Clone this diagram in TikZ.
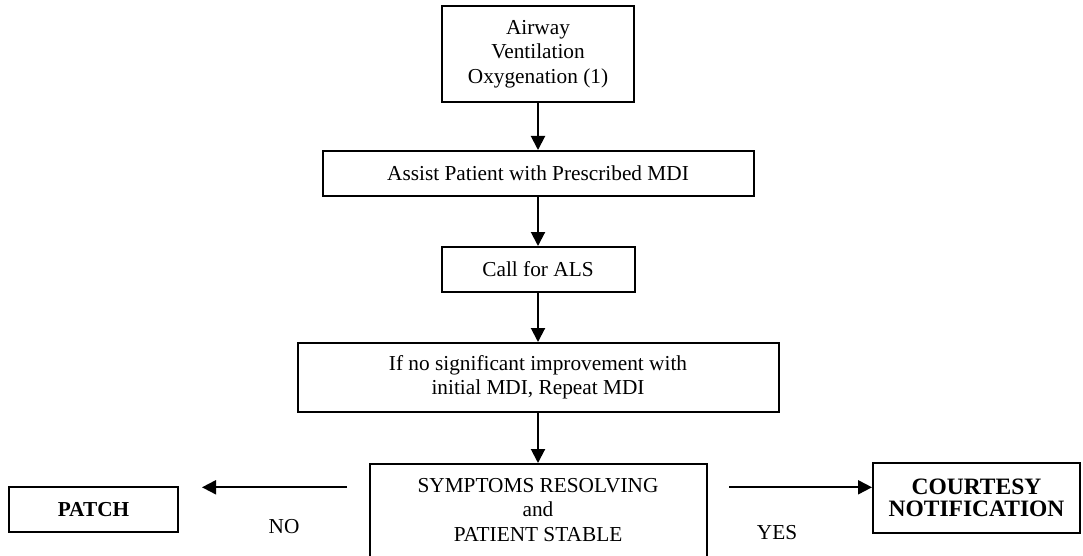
\documentclass[tikz,border=0pt]{standalone}
\usepackage{fontspec}
\setmainfont{Liberation Serif}
\usetikzlibrary{arrows.meta}
\begin{document}
\begin{tikzpicture}[x=1pt,y=-1pt,
  box/.style={draw,line width=2pt,align=center,inner sep=0pt,
    font=\fontsize{21.3}{24.5}\selectfont},
  flow/.style={line width=2pt,-{Triangle[length=14pt,width=14pt]}},
  lbl/.style={inner sep=0pt,align=center,font=\fontsize{21.3}{24.5}\selectfont}]

\useasboundingbox (0,0) rectangle (1083,556);
\clip (0,0) rectangle (1083,556);

% main column of steps
\node[box,minimum width=192pt,minimum height=96pt] (airway) at (538,54)
  {Airway\\Ventilation\\Oxygenation (1)};
\node[box,minimum width=431pt,minimum height=45pt] (assist) at (538,173.5)
  {Assist Patient with Prescribed MDI};
\node[box,minimum width=193pt,minimum height=45pt] (als) at (538,269.5)
  {Call for ALS};
\node[box,minimum width=481pt,minimum height=69pt] (repeat) at (538,377.5)
  {If no significant improvement with\\initial MDI, Repeat MDI};

% decision box (runs past the lower edge)
\node[draw,line width=2pt,inner sep=0pt,minimum width=337pt,minimum height=120pt,
  anchor=north] (symptoms) at (538,463) {};
\node[lbl] (symptext) at (538,510)
  {SYMPTOMS RESOLVING\\and\\PATIENT STABLE};

% outcomes
\node[box,minimum width=169pt,minimum height=45pt,
  font=\bfseries\fontsize{21.3}{24.5}\selectfont] (patch) at (93.5,509.5) {PATCH};
\node[box,minimum width=207pt,minimum height=70pt,
  font=\bfseries\fontsize{23.5}{21.7}\selectfont] (courtesy) at (976.5,498)
  {COURTESY\\NOTIFICATION};

\node[lbl] (nolbl) at (284,527) {NO};
\node[lbl] (yeslbl) at (777,533) {YES};

% connectors
\draw[flow] (airway.south) -- (assist.north);
\draw[flow] (assist.south) -- (als.north);
\draw[flow] (als.south) -- (repeat.north);
\draw[flow] (repeat.south) -- (symptoms.north);

\coordinate (noStart) at (347,487.3);
\coordinate (noEnd) at (202,487.3);
\draw[flow] (noStart) -- (noEnd);

\coordinate (yesStart) at (729,487.3);
\draw[flow] (yesStart) -- (yesStart -| courtesy.west);

\end{tikzpicture}
\end{document}
